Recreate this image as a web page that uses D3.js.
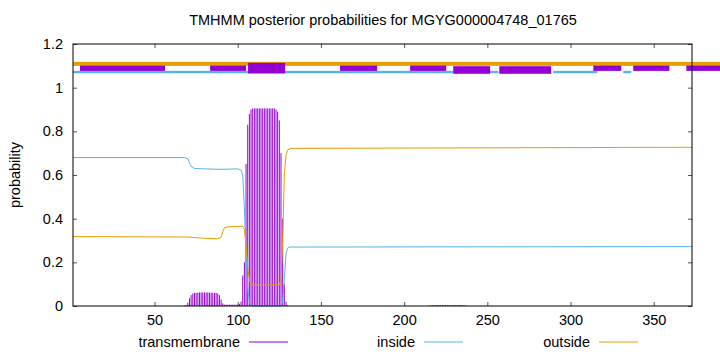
<!DOCTYPE html>
<html>
<head>
<meta charset="utf-8">
<script src="https://cdnjs.cloudflare.com/ajax/libs/d3/7.8.5/d3.min.js"></script>
<style>
  body { margin: 0; background: #fff; }
  svg { display: block; font-family: "Liberation Sans", Arial, sans-serif; }
</style>
</head>
<body>
<svg id="chart"></svg>
<script>
// x positions / values
const insideX = [1, 68, 70, 71, 72, 74, 80, 90, 100, 102, 103, 104, 105, 106, 107, 108, 109, 126, 127, 128, 129, 130, 131, 373];
const insideY = [0.68, 0.68, 0.675, 0.655, 0.64, 0.63, 0.628, 0.626, 0.628, 0.622, 0.6, 0.45, 0.25, 0.08, 0.02, 0.003, 0, 0, 0.02, 0.12, 0.24, 0.265, 0.27, 0.272];

const outsideX = [1, 70, 80, 88, 90, 91, 92, 94, 103, 104, 105, 106, 107, 108, 110, 125, 126, 127, 128, 129, 130, 132, 373];
const outsideY = [0.318, 0.316, 0.31, 0.308, 0.315, 0.34, 0.358, 0.363, 0.365, 0.35, 0.28, 0.18, 0.12, 0.1, 0.095, 0.097, 0.12, 0.3, 0.6, 0.69, 0.715, 0.722, 0.727];

// transmembrane probability per residue, starting at residue 68
const tmStart = 68;
const tmValues = [0.002, 0.005, 0.015, 0.035, 0.05, 0.057, 0.06, 0.06, 0.061, 0.062, 0.062, 0.062, 0.062, 0.062, 0.062, 0.061, 0.061, 0.06, 0.06, 0.06, 0.058, 0.05, 0.03, 0.012,
  0.006, 0.006, 0.006, 0.006, 0.006, 0.006, 0.006, 0.006, 0.006, 0.01, 0.02,
  0.14, 0.2, 0.65, 0.83, 0.88, 0.9, 0.905, 0.905, 0.905, 0.905, 0.905, 0.905, 0.905, 0.905, 0.905, 0.905, 0.905, 0.905, 0.905, 0.905, 0.9,
  0.89, 0.85, 0.7, 0.4, 0.1, 0.02, 0.005];
const tmStart2 = 215;
const tmValues2 = [0.002, 0.003, 0.004, 0.004, 0.004, 0.004, 0.004, 0.004, 0.004, 0.004, 0.004, 0.004, 0.004, 0.004, 0.004, 0.004, 0.004, 0.004, 0.004, 0.004, 0.003, 0.003, 0.002];

// segments shown above the plot
const outsideSeg = [[1, 390]];
const insideSeg = [[1, 229.5], [251.7, 256.6], [289.6, 316.1], [331.7, 336.5]];
const tmSeg = [[5.2, 56.3], [83.4, 105], [161.5, 183.8], [203.6, 225.3], [313.7, 330.5], [337.7, 359.4], [369.6, 390]];
const tmSegWide = [[229.5, 251.7], [257.2, 288.4]];
const tmSegTall = [[106.2, 128.5]];

const xTicks = [50, 100, 150, 200, 250, 300, 350];
const yTicks = [0, 0.2, 0.4, 0.6, 0.8, 1, 1.2];

const W = 720, H = 352;
const margin = { top: 44, right: 28, bottom: 46, left: 73 };
const width = W - margin.left - margin.right;
const height = H - margin.top - margin.bottom;

const colTm = '#9400d3', colIn = '#56b4e9', colOut = '#e69f00';

const svg = d3.select('#chart').attr('width', W).attr('height', H);

svg.append('text')
  .attr('x', 383).attr('y', 25)
  .attr('text-anchor', 'middle')
  .style('font-size', '14.5px')
  .text('TMHMM posterior probabilities for MGYG000004748_01765');

const g = svg.append('g').attr('transform', `translate(${margin.left}, ${margin.top})`);

const x = d3.scaleLinear().domain([1, 373]).range([0, width]);
const y = d3.scaleLinear().domain([0, 1.2]).range([height, 0]);

// impulses
const tmData = tmValues.map((v, i) => [tmStart + i, v])
  .concat(tmValues2.map((v, i) => [tmStart2 + i, v]));
g.selectAll('.imp')
  .data(tmData)
  .enter()
  .append('line')
  .attr('class', 'imp')
  .attr('x1', d => x(d[0])).attr('x2', d => x(d[0]))
  .attr('y1', y(0)).attr('y2', d => y(d[1]))
  .attr('stroke', colTm)
  .attr('stroke-width', 1);

const line = d3.line().x(d => x(d[0])).y(d => y(d[1]));
g.append('path')
  .datum(insideX.map((v, i) => [v, insideY[i]]))
  .attr('d', line).attr('fill', 'none')
  .attr('stroke', colIn).attr('stroke-width', 1);
g.append('path')
  .datum(outsideX.map((v, i) => [v, outsideY[i]]))
  .attr('d', line).attr('fill', 'none')
  .attr('stroke', colOut).attr('stroke-width', 1);

// top bars
function bars(data, level, thick, color) {
  g.selectAll(null)
    .data(data)
    .enter()
    .append('rect')
    .attr('x', d => x(d[0]))
    .attr('width', d => x(d[1]) - x(d[0]))
    .attr('y', y(level) - thick / 2)
    .attr('height', thick)
    .attr('fill', color);
}
bars(outsideSeg, 1.109, 4, colOut);
bars(insideSeg, 1.0715, 2.4, colIn);
bars(tmSeg, 1.089, 5.3, colTm);
bars(tmSegWide, 1.081, 7.6, colTm);
bars(tmSegTall, 1.0895, 10.6, colTm);

// axes
const xAxis = d3.axisBottom(x).tickValues(xTicks).tickSize(-4).tickPadding(9).tickFormat(d3.format('d'));
g.append('g')
  .attr('transform', `translate(0, ${height})`)
  .call(xAxis)
  .call(a => a.select('.domain').remove());
g.append('g')
  .call(d3.axisTop(x).tickValues(xTicks).tickSize(-4).tickFormat(''))
  .call(a => a.select('.domain').remove());

const yAxis = d3.axisLeft(y).tickValues(yTicks).tickSize(-4).tickPadding(10).tickFormat(d => d3.format('~g')(d));
g.append('g')
  .call(yAxis)
  .call(a => a.select('.domain').remove());
g.append('g')
  .attr('transform', `translate(${width}, 0)`)
  .call(d3.axisRight(y).tickValues(yTicks).tickSize(-4).tickFormat(''))
  .call(a => a.select('.domain').remove());

g.selectAll('.tick text').style('font-size', '14.5px').attr('fill', '#000');
g.selectAll('.tick line').attr('stroke', '#555');

g.append('rect')
  .attr('width', width).attr('height', height)
  .attr('fill', 'none').attr('stroke', '#000').attr('stroke-width', 1);

svg.append('text')
  .attr('transform', 'translate(20, 175) rotate(-90)')
  .attr('text-anchor', 'middle')
  .style('font-size', '14.5px')
  .text('probability');

// legend
const legend = [['transmembrane', colTm, 240], ['inside', colIn, 415], ['outside', colOut, 590]];
legend.forEach(([name, c, tx]) => {
  svg.append('text').attr('x', tx).attr('y', 347)
    .attr('text-anchor', 'end').style('font-size', '14.5px').text(name);
  svg.append('line').attr('x1', tx + 9).attr('x2', tx + 48)
    .attr('y1', 342).attr('y2', 342)
    .attr('stroke', c).attr('stroke-width', 1);
});
</script>
</body>
</html>
